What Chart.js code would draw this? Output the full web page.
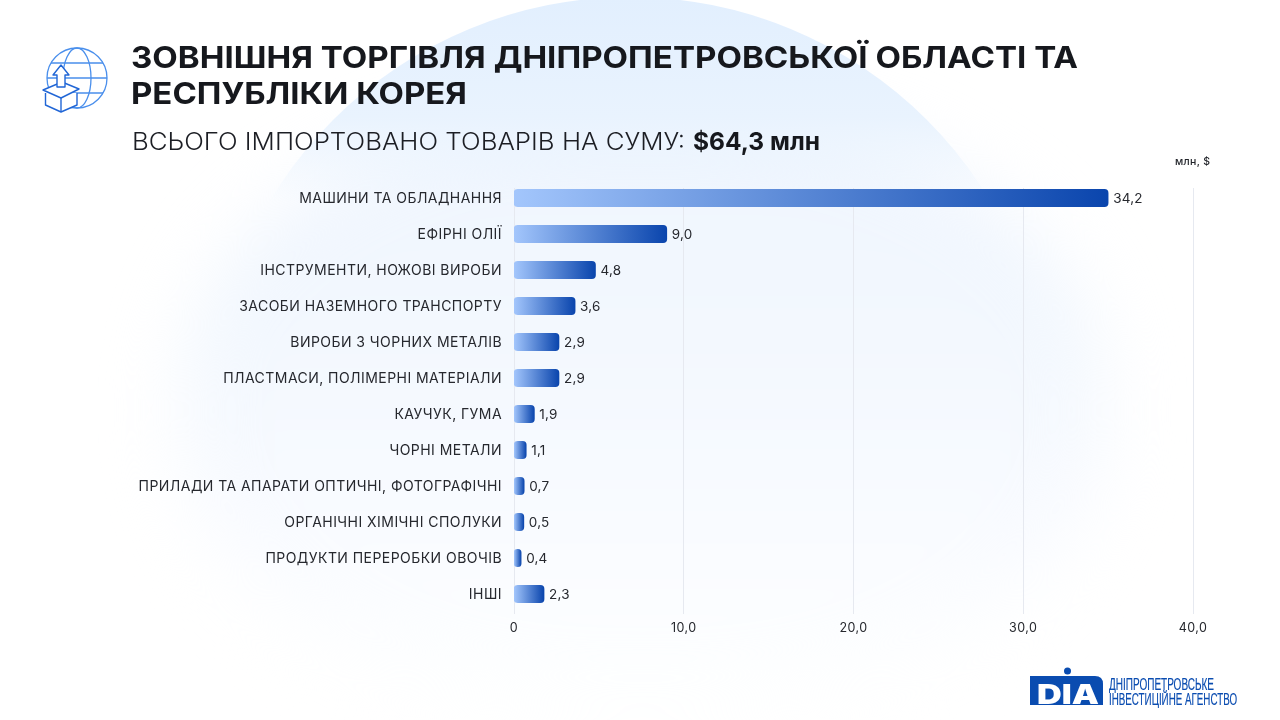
<!DOCTYPE html>
<html lang="uk"><head><meta charset="utf-8">
<script src="https://cdn.jsdelivr.net/npm/chart.js@4"></script>
<style>
html,body{margin:0;padding:0;background:#fff;overflow:hidden}
#stage{position:relative;width:1280px;height:720px;overflow:hidden;background:#fff}
#glow{position:absolute;left:180px;top:110px;width:925px;height:600px;border-radius:46%;background:linear-gradient(180deg,#eff5fe 0%,#f3f8fe 40%,#f9fbff 70%,#feffff 100%);filter:blur(34px)}
#disc{position:absolute;left:210px;top:-3px;width:840px;height:840px;border-radius:50%;background:linear-gradient(180deg,#e2effe 0px,#e9f3fe 120px,rgba(240,246,254,0) 205px)}
svg.layer,canvas{position:absolute;left:0;top:0}
</style></head><body>
<div id="stage">
<div id="glow"></div><div id="disc"></div>
<canvas id="c" width="1280" height="720"></canvas>
<svg class="layer" width="1280" height="720" viewBox="0 0 1280 720" font-family="Inter">
  <text x="131" y="68" font-size="30.5" font-weight="700" fill="#16181d" textLength="947" lengthAdjust="spacingAndGlyphs">ЗОВНІШНЯ ТОРГІВЛЯ ДНІПРОПЕТРОВСЬКОЇ ОБЛАСТІ ТА</text>
  <text x="131" y="104" font-size="30.5" font-weight="700" fill="#16181d" textLength="336" lengthAdjust="spacingAndGlyphs">РЕСПУБЛІКИ КОРЕЯ</text>
  <text x="132" y="150" font-size="24.5" font-weight="300" fill="#1c1e24" textLength="553" lengthAdjust="spacingAndGlyphs">ВСЬОГО ІМПОРТОВАНО ТОВАРІВ НА СУМУ:</text>
  <text x="693" y="150" font-size="24.5" font-weight="700" fill="#16181d" textLength="127" lengthAdjust="spacingAndGlyphs">$64,3 млн</text>
  <text x="1175" y="165" font-size="10.5" font-weight="500" fill="#22242a" textLength="35" lengthAdjust="spacing">млн, $</text>

  <g fill="none" stroke="#4a8fec" stroke-width="1.3">
    <circle cx="77" cy="78" r="30"/>
    <ellipse cx="77" cy="78" rx="14" ry="30"/>
    <path d="M51 63H103M47 78H107M51 93H103"/>
  </g>
  <g fill="#ffffff" stroke="#2166d6" stroke-width="1.4" stroke-linejoin="round">
    <path d="M45.500 93V105L61 112L77 105V93"/>
    <path d="M43 90L62 82L79 89L61 98Z"/>
    <path d="M61 98V112"/>
    <path d="M61 65L69 75H65V87H57V75H53Z"/>
  </g>

  <path d="M1030 676H1095Q1103 676 1103 684V705H1030Z" fill="#0a4cb0"/>
  <circle cx="1067.500" cy="671" r="3.500" fill="#0a4cb0"/>
  <text x="1037" y="703.500" font-size="27" font-weight="900" fill="#ffffff" textLength="62" lengthAdjust="spacingAndGlyphs">DIA</text>
  <g font-family="Liberation Sans Narrow, Liberation Sans" fill="#0a4cb0" stroke="#0a4cb0" stroke-width="0.2" font-size="16.5">
    <text x="1109" y="690" textLength="105" lengthAdjust="spacingAndGlyphs">ДНІПРОПЕТРОВСЬКЕ</text>
    <text x="1109" y="705" textLength="128" lengthAdjust="spacingAndGlyphs">ІНВЕСТИЦІЙНЕ АГЕНСТВО</text>
  </g>
</svg>
</div>
<script>
const categories = ["МАШИНИ ТА ОБЛАДНАННЯ","ЕФІРНІ ОЛІЇ","ІНСТРУМЕНТИ, НОЖОВІ ВИРОБИ","ЗАСОБИ НАЗЕМНОГО ТРАНСПОРТУ","ВИРОБИ З ЧОРНИХ МЕТАЛІВ","ПЛАСТМАСИ, ПОЛІМЕРНІ МАТЕРІАЛИ","КАУЧУК, ГУМА","ЧОРНІ МЕТАЛИ","ПРИЛАДИ ТА АПАРАТИ ОПТИЧНІ, ФОТОГРАФІЧНІ","ОРГАНІЧНІ ХІМІЧНІ СПОЛУКИ","ПРОДУКТИ ПЕРЕРОБКИ ОВОЧІВ","ІНШІ"];
// Drawn bar lengths as read against the axis in the picture
const barLengths = [35.0,9.0,4.8,3.6,2.65,2.65,1.2,0.72,0.6,0.58,0.42,1.77];
// Printed value labels
const valueLabels = ["34,2","9,0","4,8","3,6","2,9","2,9","1,9","1,1","0,7","0,5","0,4","2,3"];
const FONT = "Inter";
const TEXT = "#26282e";

const sheet = {
  id:"sheet",
  beforeDraw(chart){ chart.ctx.letterSpacing = "0.45px"; },
  beforeDatasetsDraw(chart){
    const {ctx,scales:{x}} = chart;
    ctx.save();
    ctx.strokeStyle = "#e6e9f0"; ctx.lineWidth = 1;
    x.ticks.forEach(t=>{
      const px = Math.floor(x.getPixelForValue(t.value))+0.5;
      ctx.beginPath(); ctx.moveTo(px,188); ctx.lineTo(px,614); ctx.stroke();
    });
    ctx.restore();
  },
  afterDatasetsDraw(chart){
    const {ctx} = chart, meta = chart.getDatasetMeta(0);
    ctx.save();
    ctx.font = "400 13.5px "+FONT; ctx.fillStyle = TEXT;
    ctx.textBaseline = "middle"; ctx.textAlign = "left"; ctx.letterSpacing = "0.2px";
    meta.data.forEach((b,i)=>ctx.fillText(valueLabels[i], b.x+5, b.y+0.5));
    ctx.restore();
  }
};

new Chart(document.getElementById("c"),{
  type:"bar",
  data:{labels:categories,datasets:[{
    data:barLengths,
    barThickness:17.5,
    borderRadius:{topLeft:4,topRight:4,bottomLeft:4,bottomRight:4},
    borderSkipped:false,
    backgroundColor(c){
      const ch=c.chart, s=ch.scales.x;
      if(!ch.chartArea||!s||c.raw===undefined) return "#3b78d8";
      const g=ch.ctx.createLinearGradient(s.getPixelForValue(0),0,s.getPixelForValue(c.raw),0);
      g.addColorStop(0,"#a3c6fc"); g.addColorStop(1,"#0a45ad");
      return g;
    }
  }]},
  options:{
    indexAxis:"y",responsive:false,animation:false,devicePixelRatio:1,
    layout:{padding:{left:0,right:87,top:180,bottom:0}},
    plugins:{legend:{display:false},tooltip:{enabled:false},title:{display:false}},
    scales:{
      x:{min:0,max:40,position:"bottom",
        grid:{display:false},border:{display:false},
        afterFit(s){s.height=108;},
        ticks:{stepSize:10,padding:1,maxRotation:0,color:TEXT,font:{family:FONT,size:12.5},
          callback:v=>v===0?"0":v.toFixed(1).replace(".",",")}},
      y:{grid:{display:false},border:{display:false},
        afterFit(s){s.width=514;},
        ticks:{padding:4,labelOffset:1,autoSkip:false,color:TEXT,font:{family:FONT,size:14}}}
    }
  },
  plugins:[sheet]
});
</script>
</body></html>
